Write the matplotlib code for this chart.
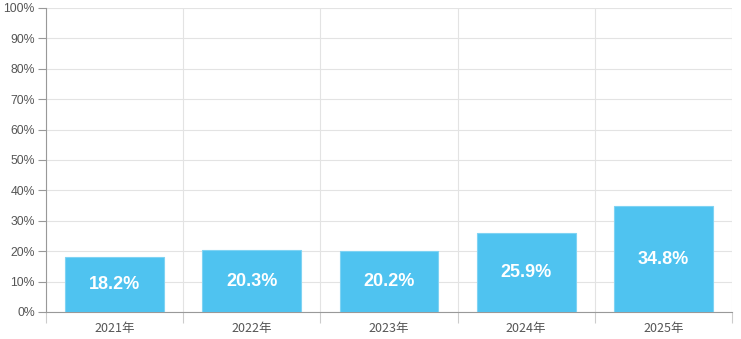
import matplotlib
matplotlib.use("Agg")
import matplotlib.pyplot as plt
import numpy as np
from matplotlib.ticker import FixedLocator

plt.rcParams["font.family"] = ["Noto Sans CJK SC", "DejaVu Sans"]

years = ["2021年", "2022年", "2023年", "2024年", "2025年"]
rates = [18.2, 20.3, 20.2, 25.9, 34.8]
y_ticks = list(range(0, 101, 10))

fig = plt.figure(figsize=(7.41, 3.39), dpi=100)
ax = fig.add_axes([46 / 741, 27 / 339, 686 / 741, 304 / 339])

x = np.arange(len(years))
bars = ax.bar(x, rates, width=0.72, color="#4FC3F0", edgecolor="#7fd3f3",
              linewidth=0.8, zorder=3)

for b, v in zip(bars, rates):
    ax.text(b.get_x() + b.get_width() / 2, v / 2, f"{v}%", ha="center",
            va="center", color="white", fontsize=13, fontweight="bold",
            family=["Liberation Sans", "DejaVu Sans"], zorder=4)

ax.set_xlim(-0.5, len(years) - 0.5)
ax.set_ylim(0, 100)
ax.set_yticks(y_ticks)
ax.set_yticklabels([f"{t}%" for t in y_ticks])
ax.set_xticks(x)
ax.set_xticklabels(years)
ax.xaxis.set_minor_locator(FixedLocator(np.arange(-0.5, len(years), 1.0)))

ax.grid(axis="y", color="#e3e3e3", linewidth=0.8, zorder=0)
ax.grid(axis="x", which="minor", color="#e3e3e3", linewidth=0.8, zorder=0)
ax.tick_params(axis="x", which="major", length=0, pad=7, labelsize=9,
               labelcolor="#555555")
ax.tick_params(axis="x", which="minor", length=8, color="#cccccc", width=0.8)
ax.tick_params(axis="y", length=6, color="#999999", width=0.8, labelsize=8.8,
               labelcolor="#555555", pad=2)
for lbl in ax.get_yticklabels():
    lbl.set_family(["Liberation Sans", "DejaVu Sans"])

for s in ["top", "right"]:
    ax.spines[s].set_visible(False)
ax.spines["left"].set_color("#999999")
ax.spines["bottom"].set_color("#999999")
ax.spines["left"].set_linewidth(0.8)
ax.spines["bottom"].set_linewidth(0.8)

fig.savefig("out.png", dpi=100)
